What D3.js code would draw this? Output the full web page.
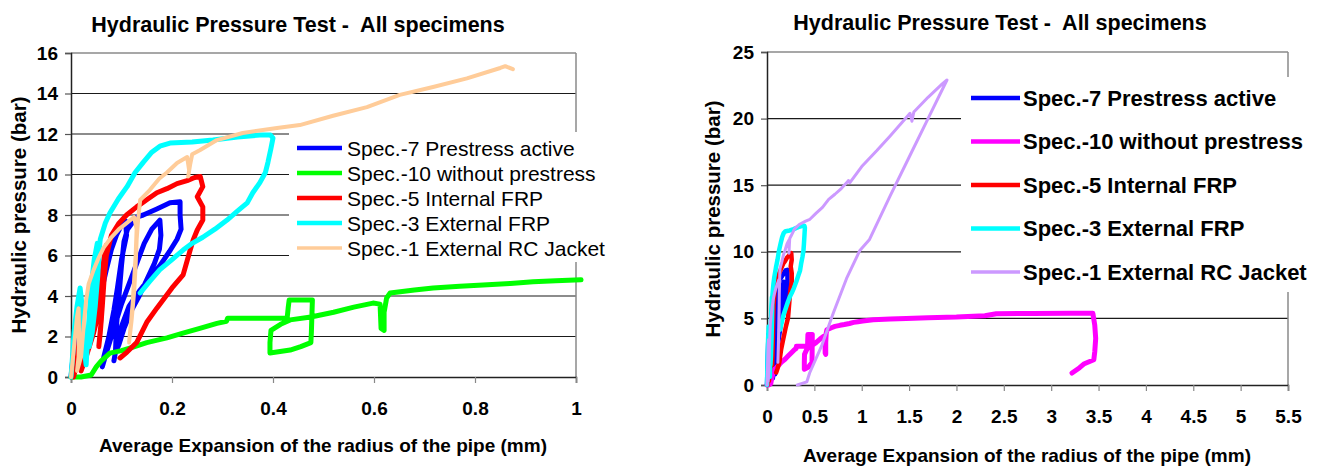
<!DOCTYPE html>
<html>
<head>
<meta charset="utf-8">
<script src="https://cdn.jsdelivr.net/npm/d3@7"></script>
<style>
  html, body { margin: 0; padding: 0; background: #fff; }
  svg { display: block; font-family: "Liberation Sans", Arial, sans-serif; }
</style>
</head>
<body>
<svg id="chart" width="1322" height="466"></svg>
<script>
// ---------------- DATA ----------------
const titleText = "Hydraulic Pressure Test -  All specimens";
const xTitle = "Average Expansion of the radius of the pipe (mm)";
const yTitle = "Hydraulic pressure (bar)";

const seriesNames = [
  "Spec.-7 Prestress active",
  "Spec.-10 without prestress",
  "Spec.-5 Internal FRP",
  "Spec.-3 External FRP",
  "Spec.-1 External RC Jacket"
];
const leftColors  = ["#0000FF", "#00FF00", "#FF0000", "#00FFFF", "#FFCC99"];
const rightColors = ["#0000FF", "#FF00FF", "#FF0000", "#00FFFF", "#CC99FF"];

// x = average expansion (mm), y = pressure (bar)
const spec7 = [
  [0,0],[0.006,1.5],[0.012,3.0],[0.016,3.8],[0.018,2.6],[0.016,1.2],[0.018,0.4],
  [0.03,1.2],[0.045,2.6],[0.058,4.0],[0.07,5.3],[0.08,6.3],[0.09,7.0],[0.1,7.5],[0.108,7.7],
  [0.11,7.0],[0.1,5.8],[0.092,4.4],[0.085,3.3],[0.075,2.0],[0.065,1.0],[0.062,0.5],
  [0.07,1.2],[0.085,2.4],[0.1,3.6],[0.115,4.6],[0.13,5.6],[0.145,6.6],[0.16,7.3],[0.176,7.75],
  [0.178,7.0],[0.175,6.3],[0.165,5.6],[0.15,4.8],[0.135,4.0],[0.12,3.3],[0.105,2.4],[0.095,1.6],[0.088,1.2],
  [0.09,2.5],[0.095,4.0],[0.1,5.5],[0.105,6.7],[0.112,7.3],[0.13,7.9],[0.143,8.0],[0.17,8.3],[0.196,8.6],[0.216,8.65],
  [0.216,8.0],[0.218,7.3],[0.21,6.8],[0.195,6.2],[0.176,5.5],[0.156,4.9],[0.137,4.3],[0.115,3.5],[0.1,2.5],[0.09,1.5],[0.085,0.8]
];
const spec10 = [
  [0,0],[0.02,0],[0.04,0.1],[0.05,0.5],[0.06,0.8],[0.077,1.18],[0.1,1.3],[0.123,1.48],[0.15,1.7],
  [0.19,1.93],[0.22,2.15],[0.255,2.4],[0.289,2.65],[0.308,2.75],[0.31,2.9],[0.35,2.9],[0.4,2.9],[0.428,2.9],
  [0.43,3.4],[0.432,3.8],[0.46,3.8],[0.478,3.8],[0.477,3.0],[0.476,2.2],[0.475,1.7],[0.455,1.5],[0.434,1.33],[0.394,1.19],
  [0.394,1.7],[0.396,2.3],[0.415,2.6],[0.434,2.82],[0.475,2.96],[0.52,3.2],[0.56,3.45],[0.598,3.65],
  [0.612,3.6],[0.614,2.4],[0.62,2.3],[0.62,3.2],[0.625,3.9],[0.632,4.15],[0.68,4.3],[0.717,4.4],[0.77,4.48],
  [0.816,4.54],[0.87,4.62],[0.915,4.7],[0.96,4.75],[1.01,4.8],
  [1.12,4.9],[1.3,4.95],[1.47,5.0],[1.7,5.05],[2.0,5.1],[2.3,5.2],[2.42,5.35],[2.8,5.37],[3.2,5.38],[3.44,5.38],
  [3.46,4.5],[3.47,3.5],[3.46,2.5],[3.45,1.9],[3.35,1.6],[3.3,1.3],[3.22,0.9]
];
const spec5 = [
  [0.005,0],[0.01,0.5],[0.015,1.5],[0.02,2.5],[0.022,3.0],[0.024,2.0],[0.022,1.0],[0.02,0.3],
  [0.03,1.0],[0.045,2.2],[0.055,3.2],[0.058,4.2],[0.062,5.2],[0.066,6.0],[0.07,6.5],
  [0.066,5.0],[0.062,3.5],[0.058,2.2],[0.055,1.5],
  [0.06,2.8],[0.064,4.5],[0.07,6.0],[0.08,7.0],[0.095,7.6],[0.11,8.0],[0.13,8.4],[0.15,8.75],[0.17,9.1],
  [0.19,9.3],[0.21,9.55],[0.23,9.7],[0.245,9.85],[0.256,9.9],[0.261,9.4],[0.25,8.9],[0.261,8.4],[0.261,7.75],
  [0.25,7.26],[0.242,6.77],[0.236,6.27],[0.222,5.04],[0.2,4.4],[0.17,3.4],[0.15,2.7],[0.13,1.7],[0.111,1.23],[0.097,0.94]
];
const spec3 = [
  [0,0],[0.003,1],[0.006,2.2],[0.012,3.5],[0.018,4.4],[0.022,3.5],[0.025,2],[0.028,1],[0.03,0.6],
  [0.032,1.5],[0.036,3],[0.04,4.5],[0.046,5.8],[0.052,6.6],[0.056,6.2],[0.053,5],[0.048,3.5],[0.042,2.2],[0.036,1.5],
  [0.04,2.5],[0.046,4],[0.052,5.5],[0.058,6.8],[0.068,7.6],[0.077,8.1],[0.094,8.8],[0.111,9.4],[0.127,10.1],
  [0.143,10.6],[0.16,11.1],[0.176,11.4],[0.196,11.55],[0.24,11.6],[0.281,11.7],[0.33,11.85],[0.374,11.95],
  [0.395,11.95],[0.4,11.8],[0.396,11.3],[0.39,10.6],[0.385,10.1],[0.374,9.6],[0.36,9.1],[0.349,8.6],[0.33,8.2],
  [0.309,7.75],[0.285,7.3],[0.261,6.9],[0.24,6.6],[0.222,6.27],[0.2,5.8],[0.176,5.3],[0.155,4.7],[0.137,4.15]
];
const spec1 = [
  [0,0],[0.004,1.0],[0.008,2.0],[0.012,3.0],[0.015,3.4],[0.016,2.2],[0.015,1.0],[0.012,0.3],
  [0.02,1.0],[0.025,2.5],[0.03,3.8],[0.035,4.6],[0.045,5.3],[0.055,5.9],[0.065,6.4],[0.08,6.9],[0.095,7.3],
  [0.11,7.6],[0.125,7.9],[0.13,7.3],[0.128,6.0],[0.125,4.8],[0.122,3.6],[0.118,2.5],[0.115,1.7],
  [0.12,2.8],[0.125,4.2],[0.128,5.5],[0.13,6.8],[0.133,7.8],[0.137,8.74],[0.156,9.23],[0.175,9.8],[0.19,10.1],
  [0.21,10.57],[0.23,10.86],[0.234,10.2],[0.232,9.9],[0.236,10.5],[0.24,11.0],[0.255,11.2],[0.289,11.7],
  [0.34,12.05],[0.408,12.3],[0.453,12.44],[0.519,12.9],[0.586,13.33],[0.651,13.93],[0.717,14.32],[0.784,14.75],
  [0.85,15.26],[0.86,15.35],[0.875,15.2],
  [1.0,16.4],[1.16,17.6],[1.3,18.7],[1.51,20.4],[1.53,19.8],[1.55,20.5],[1.7,21.6],[1.85,22.6],[1.9,22.9],
  [1.7,20.0],[1.5,17.1],[1.3,14.2],[1.08,10.9],[0.98,10.1],[0.84,8.0],[0.7,5.4],[0.58,3.0],[0.45,0.9],[0.42,0.23],[0.32,0]
];
const allSeries = [spec7, spec10, spec5, spec3, spec1];
// the left panel shows each record only up to these expansions
const leftLimits = [1.05, 1.05, 1.05, 1.05, 0.88];

const xTicksLeft  = [0, 0.2, 0.4, 0.6, 0.8, 1];
const yTicksLeft  = [0, 2, 4, 6, 8, 10, 12, 14, 16];
const xTicksRight = [0, 0.5, 1, 1.5, 2, 2.5, 3, 3.5, 4, 4.5, 5, 5.5];
const yTicksRight = [0, 5, 10, 15, 20, 25];

// ---------------- DRAW ----------------
const svg = d3.select("#chart");

function prefix(data, lim) {
  const out = [];
  for (const p of data) { if (p[0] > lim) break; out.push(p); }
  return out;
}

function panel(cfg) {
  const g = svg.append("g");
  const x = d3.scaleLinear().domain(cfg.xDomain).range(cfg.xRange);
  const y = d3.scaleLinear().domain(cfg.yDomain).range(cfg.yRange);
  const [x0, x1] = cfg.xRange, [y0, y1] = cfg.yRange;

  // gridlines
  g.append("g").selectAll("line").data(cfg.yTicks.slice(1, -1)).join("line")
    .attr("x1", x0).attr("x2", x1).attr("y1", d => y(d)).attr("y2", d => y(d))
    .attr("stroke", "#1a1a1a").attr("stroke-width", 1.2);
  // top and right border
  g.append("line").attr("x1", x0).attr("x2", x1).attr("y1", y1).attr("y2", y1)
    .attr("stroke", "#8a8a8a").attr("stroke-width", 1.5);
  g.append("line").attr("x1", x1).attr("x2", x1).attr("y1", y1).attr("y2", y0)
    .attr("stroke", "#8a8a8a").attr("stroke-width", 1.5);

  // axes
  const ax = g.append("g").attr("transform", `translate(0,${y0})`)
    .call(d3.axisBottom(x).tickValues(cfg.xTicks).tickSize(6).tickPadding(18.5).tickFormat(d => String(d)));
  const ay = g.append("g").attr("transform", `translate(${x0},0)`)
    .call(d3.axisLeft(y).tickValues(cfg.yTicks).tickSize(6).tickPadding(7).tickFormat(d => String(d)));
  [ax, ay].forEach(a => {
    a.select(".domain").attr("stroke", "#222").attr("stroke-width", 1.5);
    a.selectAll(".tick line").attr("stroke", "#555").attr("stroke-width", 1.2);
    a.selectAll(".tick text").attr("font-size", 19).attr("font-weight", "bold")
      .attr("fill", "#000").attr("font-family", '"Liberation Sans", Arial, sans-serif');
  });
  ax.selectAll(".tick line").attr("stroke", "#888");

  // series
  const line = d3.line().x(d => x(d[0])).y(d => y(d[1]));
  allSeries.forEach((s, i) => {
    const data = cfg.limits ? prefix(s, cfg.limits[i]) : s;
    g.append("path").datum(data).attr("d", line)
      .attr("fill", "none").attr("stroke", cfg.colors[i])
      .attr("stroke-width", cfg.widths[i])
      .attr("stroke-linejoin", "round").attr("stroke-linecap", "round");
  });

  // legend
  const L = cfg.legend;
  g.append("rect").attr("x", L.bx).attr("y", L.by).attr("width", L.bw).attr("height", L.bh).attr("fill", "#fff");
  seriesNames.forEach((n, i) => {
    const yy = L.y0 + i * L.dy;
    g.append("line").attr("x1", L.lx1).attr("x2", L.lx2).attr("y1", yy).attr("y2", yy)
      .attr("stroke", cfg.colors[i]).attr("stroke-width", L.lw[i]);
    g.append("text").attr("x", L.tx).attr("y", yy).attr("dy", "0.36em")
      .attr("font-size", L.fs).attr("font-weight", L.fw).attr("fill", "#000").text(n);
  });

  // titles
  g.append("text").attr("x", cfg.titleX).attr("y", cfg.titleY).attr("text-anchor", "middle")
    .attr("font-size", 21.5).attr("font-weight", "bold").style("white-space", "pre").text(titleText);
  g.append("text").attr("x", cfg.xtX).attr("y", cfg.xtY).attr("text-anchor", "middle")
    .attr("font-size", 19).attr("font-weight", "bold").text(xTitle);
  g.append("text").attr("transform", `translate(${cfg.ytX},${cfg.ytY}) rotate(-90)`)
    .attr("text-anchor", "middle").attr("font-size", 20.5).attr("font-weight", "bold").text(yTitle);
}

panel({
  xDomain: [0, 1], xRange: [71, 576], yDomain: [0, 16], yRange: [377, 53],
  xTicks: xTicksLeft, yTicks: yTicksLeft, colors: leftColors,
  widths: [5, 5, 5, 5, 4], limits: leftLimits,
  legend: { bx: 289, by: 132, bw: 320, bh: 130, y0: 148, dy: 25, lx1: 297, lx2: 342, tx: 347,
            lw: [4.5, 4.5, 4.5, 4.5, 3.5], fs: 21, fw: "normal" },
  titleX: 298, titleY: 32, xtX: 323, xtY: 452, ytX: 26, ytY: 215
});

panel({
  xDomain: [0, 5.5], xRange: [767, 1288], yDomain: [0, 25], yRange: [385, 52],
  xTicks: xTicksRight, yTicks: yTicksRight, colors: rightColors,
  widths: [4.5, 5, 4.5, 4.5, 3], limits: null,
  legend: { bx: 961, by: 77, bw: 358, bh: 215, y0: 98, dy: 43.5, lx1: 971, lx2: 1020, tx: 1023,
            lw: [4.5, 4.5, 4.5, 4.5, 3.5], fs: 22, fw: "bold" },
  titleX: 1000, titleY: 30, xtX: 1027, xtY: 462, ytX: 720, ytY: 219
});
</script>
</body>
</html>
